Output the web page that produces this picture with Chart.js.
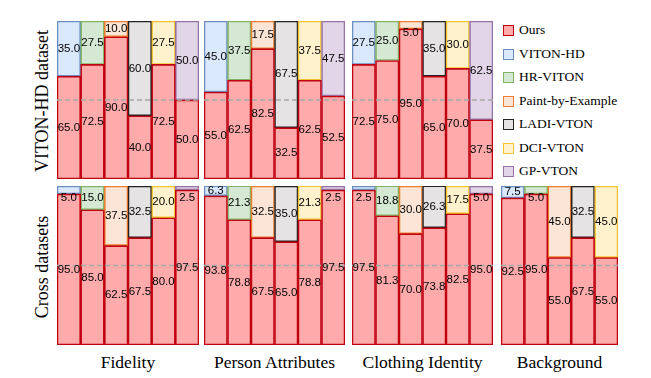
<!DOCTYPE html>
<html>
<head>
<meta charset="utf-8">
<script src="https://cdn.jsdelivr.net/npm/chart.js@4"></script>
<style>
    body { margin: 0; background: #fff; }
    #stage { position: relative; width: 651px; height: 378px; overflow: hidden; }
    #stage canvas { position: absolute; }
    .title { position: absolute; font-family: 'Liberation Serif', 'Times New Roman', serif; color: #000; white-space: nowrap; }
    .row-title { font-size: 18px; transform: translate(-50%, -50%) rotate(-90deg); }
    .col-title { font-size: 17.5px; transform: translate(-50%, -50%); }
    .legend-item { position: absolute; left: 503px; height: 14px; font-family: 'Liberation Serif', 'Times New Roman', serif; font-size: 13.5px; line-height: 14px; white-space: nowrap; }
    .legend-box { position: absolute; left: 0; top: 1px; width: 9px; height: 9px; border: 1.5px solid; }
    .legend-text { position: absolute; left: 16px; top: -1px; }
</style>
</head>
<body>
<div id="stage"></div>
<script>
    // methods compared against ours, criteria and the two datasets
    const methods = ['VITON-HD', 'HR-VITON', 'Paint-by-Example', 'LADI-VTON', 'DCI-VTON', 'GP-VTON'];
    const criteria = ['Fidelity', 'Person Attributes', 'Clothing Identity', 'Background'];
    const rowTitles = ['VITON-HD dataset', 'Cross datasets'];

    // VITON-HD dataset: share preferring ours / the other method (%)
    const vitonFidelityOurs = [65.0, 72.5, 90.0, 40.0, 72.5, 50.0];
    const vitonFidelityOther = [35.0, 27.5, 10.0, 60.0, 27.5, 50.0];
    const vitonPersonOurs = [55.0, 62.5, 82.5, 32.5, 62.5, 52.5];
    const vitonPersonOther = [45.0, 37.5, 17.5, 67.5, 37.5, 47.5];
    const vitonClothingOurs = [72.5, 75.0, 95.0, 65.0, 70.0, 37.5];
    const vitonClothingOther = [27.5, 25.0, 5.0, 35.0, 30.0, 62.5];

    // Cross datasets
    const crossFidelityOurs = [95.0, 85.0, 62.5, 67.5, 80.0, 97.5];
    const crossFidelityOther = [5.0, 15.0, 37.5, 32.5, 20.0, 2.5];
    const crossPersonOurs = [93.8, 78.8, 67.5, 65.0, 78.8, 97.5];
    const crossPersonOther = [6.3, 21.3, 32.5, 35.0, 21.3, 2.5];
    const crossClothingOurs = [97.5, 81.3, 70.0, 73.8, 82.5, 95.0];
    const crossClothingOther = [2.5, 18.8, 30.0, 26.3, 17.5, 5.0];
    const crossBackgroundOurs = [92.5, 95.0, 55.0, 67.5, 55.0];
    const crossBackgroundOther = [7.5, 5.0, 45.0, 32.5, 45.0];

    const oursFill = '#ffabab';
    const oursLine = '#c00010';
    const methodFills = ['#dae8fc', '#d5e8d4', '#fbe5d6', '#e5e3e4', '#fff2cc', '#e1d5e7'];
    const methodLines = ['#6c8ebf', '#82b366', '#ed7d31', '#222222', '#f4c430', '#9673a6'];

    const stage = document.getElementById('stage');

    const halfLine = {
        id: 'halfLine',
        afterDatasetsDraw(chart) {
            const ctx = chart.ctx;
            const area = chart.chartArea;
            const y = chart.scales.y.getPixelForValue(50);
            ctx.save();
            ctx.strokeStyle = '#a8a8a8';
            ctx.lineWidth = 1.5;
            ctx.setLineDash([5, 3]);
            ctx.beginPath();
            ctx.moveTo(area.left, y);
            ctx.lineTo(area.right, y);
            ctx.stroke();
            ctx.restore();
        }
    };

    const valueLabels = {
        id: 'valueLabels',
        afterDraw(chart) {
            const ctx = chart.ctx;
            ctx.save();
            ctx.font = '11.5px "Liberation Sans", Arial, sans-serif';
            ctx.fillStyle = '#000';
            ctx.textAlign = 'center';
            ctx.textBaseline = 'middle';
            chart.data.datasets.forEach((dataset, di) => {
                const meta = chart.getDatasetMeta(di);
                meta.data.forEach((bar, i) => {
                    const top = Math.min(bar.y, bar.base);
                    const h = Math.abs(bar.base - bar.y);
                    let y = top + h / 2;
                    if (h < 9) {
                        y = top + 12;
                    }
                    ctx.fillText(dataset.data[i].toFixed(1), bar.x, y);
                });
            });
            ctx.restore();
        }
    };

    function makePanel(left, top, width, height, ours, other) {
        const canvas = document.createElement('canvas');
        canvas.width = width;
        canvas.height = height;
        canvas.style.left = left + 'px';
        canvas.style.top = top + 'px';
        stage.appendChild(canvas);

        const n = ours.length;
        new Chart(canvas, {
            type: 'bar',
            data: {
                labels: methods.slice(0, n),
                datasets: [
                    {
                        label: 'Ours',
                        data: ours,
                        backgroundColor: oursFill,
                        borderColor: oursLine,
                        borderWidth: 1.6,
                        borderSkipped: false
                    },
                    {
                        label: 'Other',
                        data: other,
                        backgroundColor: methodFills.slice(0, n),
                        borderColor: methodLines.slice(0, n),
                        borderWidth: 1.6,
                        borderSkipped: false
                    }
                ]
            },
            options: {
                responsive: false,
                animation: false,
                devicePixelRatio: 1,
                layout: {padding: 0},
                datasets: {bar: {categoryPercentage: 1, barPercentage: 1}},
                plugins: {legend: {display: false}, tooltip: {enabled: false}},
                scales: {
                    x: {stacked: true, display: false},
                    y: {stacked: true, display: false, min: 0, max: 100}
                }
            },
            plugins: [halfLine, valueLabels]
        });
    }

    const colLeft = [57, 204, 352, 501];
    const colWidth = [142, 141, 141, 117];
    const rowTop = [21, 186];
    const rowHeight = [158, 159];

    makePanel(colLeft[0], rowTop[0], colWidth[0], rowHeight[0], vitonFidelityOurs, vitonFidelityOther);
    makePanel(colLeft[1], rowTop[0], colWidth[1], rowHeight[0], vitonPersonOurs, vitonPersonOther);
    makePanel(colLeft[2], rowTop[0], colWidth[2], rowHeight[0], vitonClothingOurs, vitonClothingOther);

    makePanel(colLeft[0], rowTop[1], colWidth[0], rowHeight[1], crossFidelityOurs, crossFidelityOther);
    makePanel(colLeft[1], rowTop[1], colWidth[1], rowHeight[1], crossPersonOurs, crossPersonOther);
    makePanel(colLeft[2], rowTop[1], colWidth[2], rowHeight[1], crossClothingOurs, crossClothingOther);
    makePanel(colLeft[3], rowTop[1], colWidth[3], rowHeight[1], crossBackgroundOurs, crossBackgroundOther);

    // row and column titles
    rowTitles.forEach((text, i) => {
        const el = document.createElement('div');
        el.className = 'title row-title';
        el.textContent = text;
        el.style.left = '42px';
        el.style.top = (rowTop[i] + rowHeight[i] / 2 + 1) + 'px';
        stage.appendChild(el);
    });

    criteria.forEach((text, i) => {
        const el = document.createElement('div');
        el.className = 'title col-title';
        el.textContent = text;
        el.style.left = (colLeft[i] + colWidth[i] / 2) + 'px';
        el.style.top = '362px';
        stage.appendChild(el);
    });

    // legend
    const legendNames = ['Ours'].concat(methods);
    const legendFills = [oursFill].concat(methodFills);
    const legendLines = [oursLine].concat(methodLines);
    for (let i = 0; i < legendNames.length; i++) {
        const item = document.createElement('div');
        item.className = 'legend-item';
        item.style.top = (24 + i * 23.5) + 'px';
        const box = document.createElement('div');
        box.className = 'legend-box';
        box.style.background = legendFills[i];
        box.style.borderColor = legendLines[i];
        const label = document.createElement('div');
        label.className = 'legend-text';
        label.textContent = legendNames[i];
        item.appendChild(box);
        item.appendChild(label);
        stage.appendChild(item);
    }
</script>
</body>
</html>
